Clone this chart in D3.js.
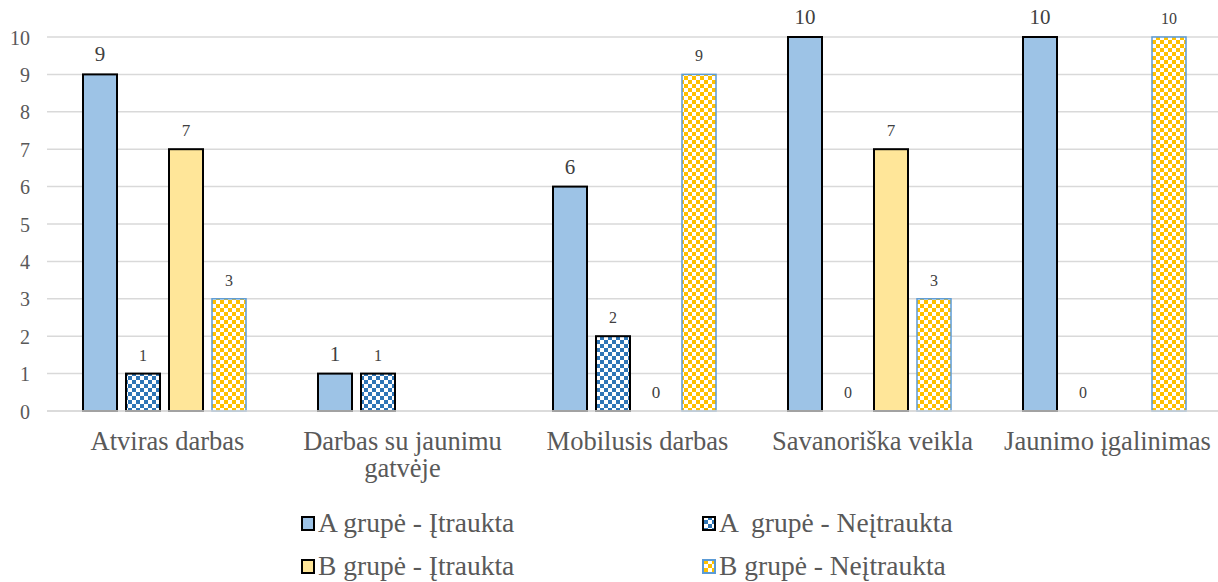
<!DOCTYPE html>
<html><head><meta charset="utf-8">
<script src="https://cdn.jsdelivr.net/npm/d3@7/dist/d3.min.js"></script>
<style>body{margin:0;background:#fff;} svg{display:block;} svg text{font-family:"Liberation Serif","DejaVu Serif",serif; white-space:pre;}</style>
</head><body><svg id="c" width="1218" height="582"></svg>
<script>
const categories = [["Atviras darbas"], ["Darbas su jaunimu", "gatvėje"], ["Mobilusis darbas"], ["Savanoriška veikla"], ["Jaunimo įgalinimas"]];
const seriesNames = ["A grupė - Įtraukta", "A  grupė - Neįtraukta", "B grupė - Įtraukta", "B grupė - Neįtraukta"];
const aIncluded = [9, 1, 6, 10, 10];
const aExcluded = [1, 1, 2, 0, 0];
const bIncluded = [7, null, 0, 7, null];
const bExcluded = [3, null, 9, 3, 10];
const yTicks = [0,1,2,3,4,5,6,7,8,9,10];

(function(){
const seriesValues = [aIncluded, aExcluded, bIncluded, bExcluded];
const styles = [
  {fill: "#9dc3e6", stroke: "#000", lab: 21},
  {fill: "url(#pBlue)", stroke: "#000", lab: 16},
  {fill: "#ffe699", stroke: "#000", lab: 17},
  {fill: "url(#pGold)", stroke: "#5b9bd5", lab: 16}
];

const svg = d3.select("#c");
const defs = svg.append("defs");
function checker(id, color){
  const p = defs.append("pattern").attr("id", id).attr("width", 8).attr("height", 8).attr("patternUnits", "userSpaceOnUse");
  p.append("rect").attr("width", 8).attr("height", 8).attr("fill", "#fff");
  p.append("rect").attr("width", 4).attr("height", 4).attr("fill", color);
  p.append("rect").attr("x", 4).attr("y", 4).attr("width", 4).attr("height", 4).attr("fill", color);
}
checker("pBlue", "#2e75b6");
checker("pGold", "#ffc000");

const pL = 47, pR = 1222, pT = 37, pB = 411;
const x0 = d3.scaleBand().domain(d3.range(categories.length)).range([pL, pR]).paddingInner(0).paddingOuter(0);
const y = d3.scaleLinear().domain([0, 10]).range([pB, pT]);

svg.append("g").selectAll("line").data(yTicks).join("line")
  .attr("x1", pL).attr("x2", 1218).attr("y1", d => y(d)).attr("y2", d => y(d))
  .attr("stroke", "#d9d9d9").attr("stroke-width", 1.5);

const yAxis = d3.axisLeft(y).tickValues(yTicks).tickSize(0).tickPadding(0).tickFormat(d3.format("d"));
const ya = svg.append("g").attr("transform", `translate(30,0)`).call(yAxis);
ya.select(".domain").remove();
ya.attr("font-family", null);
ya.selectAll("text").attr("font-size", 20).attr("fill", "#595959").attr("dy", "0.35em");

const step = 43, bw = 34;
const offsets = [-1.5, -0.5, 0.5, 1.5];
seriesValues.forEach((vals, s) => {
  const g = svg.append("g");
  vals.forEach((v, i) => {
    if (v === null) return;
    const cx = x0(i) + x0.bandwidth() / 2 + offsets[s] * step;
    if (v > 0) {
      g.append("rect").attr("x", cx - bw/2).attr("y", y(v)).attr("width", bw).attr("height", y(0) - y(v))
        .attr("fill", styles[s].fill).attr("stroke", styles[s].stroke).attr("stroke-width", s === 3 ? 1.5 : 2);
    }
    g.append("text").attr("x", cx).attr("y", y(v) - 13).attr("text-anchor", "middle")
      .attr("font-size", styles[s].lab).attr("fill", "#404040").text(v);
  });
});

svg.append("line").attr("x1", pL).attr("x2", 1218).attr("y1", y(0)).attr("y2", y(0)).attr("stroke", "#d9d9d9").attr("stroke-width", 1.5);

categories.forEach((lines, i) => {
  const cx = x0(i) + x0.bandwidth()/2 + 3;
  const t = svg.append("text").attr("x", cx).attr("y", 450).attr("text-anchor", "middle")
    .attr("font-size", 26.5).attr("fill", "#595959");
  lines.forEach((l, j) => t.append("tspan").attr("x", cx).attr("dy", j === 0 ? 0 : 27).text(l));
});

const legPos = [[302, 532], [703, 532], [302, 575], [703, 575]];
seriesNames.forEach((n, s) => {
  const [lx, ly] = legPos[s];
  svg.append("rect").attr("x", lx).attr("y", ly - 15).attr("width", 12).attr("height", 13)
    .attr("fill", styles[s].fill).attr("stroke", styles[s].stroke).attr("stroke-width", 2);
  svg.append("text").attr("x", lx + 16).attr("y", ly).attr("font-size", 27.5)
    .attr("fill", "#595959").text(n);
});
})();
</script></body></html>
